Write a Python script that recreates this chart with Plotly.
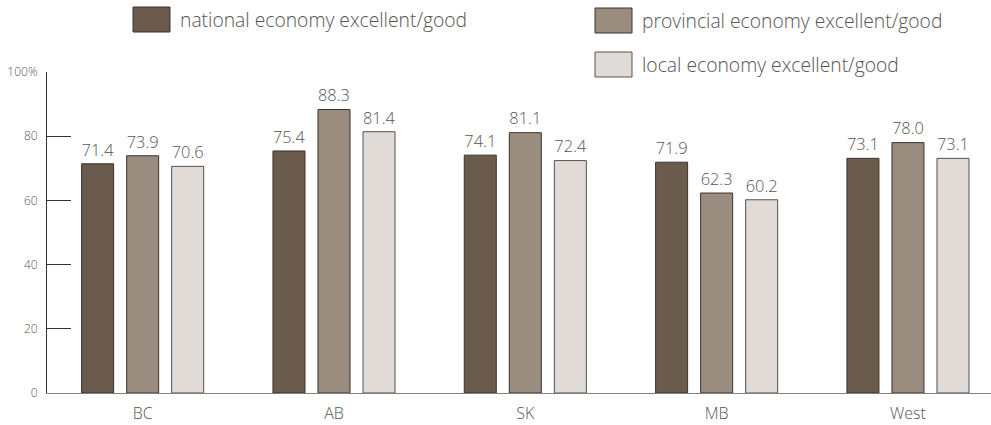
import plotly.graph_objects as go

# Regions and the share rating each economy as excellent/good (%)
regions = ["BC", "AB", "SK", "MB", "West"]
national = [71.4, 75.4, 74.1, 71.9, 73.1]
provincial = [73.9, 88.3, 81.1, 62.3, 78.0]
local = [70.6, 81.4, 72.4, 60.2, 73.1]

series_names = [
    "national economy excellent/good",
    "provincial economy excellent/good",
    "local economy excellent/good",
]
series_values = [national, provincial, local]
series_colors = ["#6b5b4d", "#9a8c7f", "#e0dbd7"]
series_lines = ["#3a332d", "#3a332d", "#555050"]

y_tickvals = [0, 20, 40, 60, 80, 100]
y_ticktext = ["0", "20", "40", "60", "80", "100%"]

W, H = 991, 425
ML, MR, MT, MB = 47, 0, 72, 32
FONT = "Open Sans"
TEXT = "#555555"

fig = go.Figure()
for name, vals, col, lc in zip(series_names, series_values, series_colors, series_lines):
    fig.add_trace(go.Bar(
        x=regions, y=vals, name=name,
        marker=dict(color=col, line=dict(color=lc, width=1)),
        text=[f"{v:.1f}" for v in vals],
        textposition="outside",
        textfont=dict(family=FONT, size=19, color=TEXT, weight=300),
        cliponaxis=False,
        showlegend=False,
    ))

# Legend swatches and labels drawn in paper space
pw, ph = W - ML - MR, H - MT - MB


def px_x(x):
    return (x - ML) / pw


def px_y(y):
    return (H - MB - y) / ph


legend_items = [
    (133, 7, 0),
    (595, 8, 1),
    (595, 52, 2),
]
shapes = []
annotations = []
for x0, y0, i in legend_items:
    shapes.append(dict(
        type="rect", xref="paper", yref="paper",
        x0=px_x(x0), x1=px_x(x0 + 37), y0=px_y(y0 + 25), y1=px_y(y0),
        fillcolor=series_colors[i], line=dict(color=series_lines[i], width=1),
    ))
    annotations.append(dict(
        xref="paper", yref="paper", x=px_x(x0 + 45), y=px_y(y0 + 12.5),
        xanchor="left", yanchor="middle", showarrow=False,
        text=series_names[i],
        font=dict(family=FONT, size=19.3, color=TEXT, weight=300),
    ))

fig.update_layout(
    width=W, height=H,
    margin=dict(l=ML, r=MR, t=MT, b=MB, pad=0),
    paper_bgcolor="white", plot_bgcolor="white",
    barmode="group", bargap=0.294, bargroupgap=0.289,
    shapes=shapes, annotations=annotations,
    font=dict(family=FONT, color=TEXT),
    xaxis=dict(
        range=[-0.5, 4.434], showgrid=False, zeroline=False,
        showline=True, linecolor="#808080", linewidth=1,
        ticks="", tickfont=dict(family=FONT, size=16, color=TEXT, weight=300),
        ticklabelstandoff=6,
    ),
    yaxis=dict(
        range=[0, 100], showgrid=False, zeroline=False,
        showline=True, linecolor="#333333", linewidth=1,
        tickvals=y_tickvals, ticktext=y_ticktext,
        ticks="inside", ticklen=24, tickcolor="#333333", tickwidth=1,
        tickfont=dict(family=FONT, size=12, color="#555555", weight=300),
        ticklabelstandoff=6,
    ),
)

fig.write_html("out.html")
